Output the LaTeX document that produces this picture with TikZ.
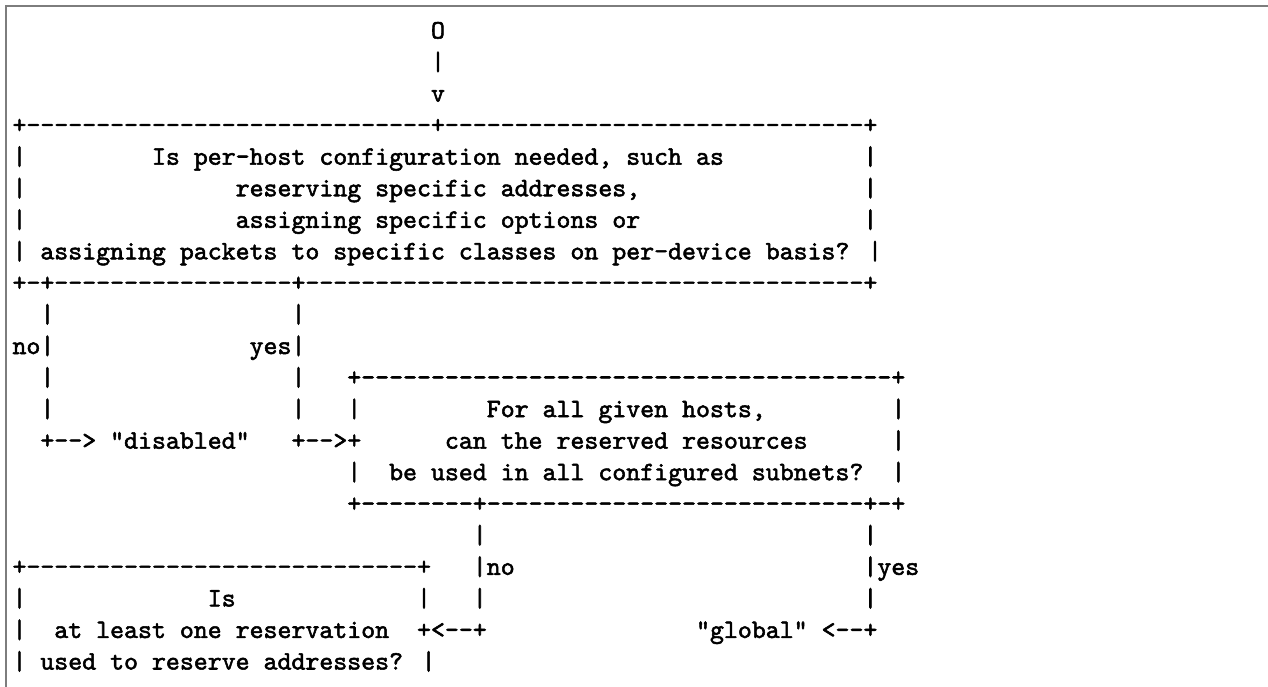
\documentclass[tikz,border=0pt]{standalone}
\usepackage{fontspec}
\newfontfamily\asciimono{lmmono10-regular}[Extension=.otf,FakeBold=2]
\definecolor{framegray}{RGB}{125,125,125}
\tikzset{
  ch/.style={anchor=base west, inner sep=0pt, outer sep=0pt,
    font=\asciimono\fontsize{26.57}{31.55}\selectfont, text=black},
  cell/.style 2 args={at={({12.5+13.95*#1},{-38.5-31.55*#2})}},
  frameline/.style={draw=framegray, line width=2pt}
}
\begin{document}
\begin{tikzpicture}[x=1pt,y=1pt]
\useasboundingbox (0,0) rectangle (1268,-687);
\coordinate (fbl) at (6,-690);
\coordinate (ftl) at (6,-6);
\coordinate (ftr) at (1270,-6);
\draw[frameline] (fbl) -- (ftl) -- (ftr);
% start
\node[ch,cell={30}{0}] (s0) {O};
\node[ch,cell={30}{1}] (s1) {|};
\node[ch,cell={30}{2}] (s2) {v};
% first box
\node[ch,cell={0}{3}] (b1top) {+-----------------------------+------------------------------+};
\node[ch,cell={0}{4}] (b1l4) {|};
\node[ch,cell={10}{4}] (b1t4) {Is per-host configuration needed, such as};
\node[ch,cell={61}{4}] (b1r4) {|};
\node[ch,cell={0}{5}] (b1l5) {|};
\node[ch,cell={16}{5}] (b1t5) {reserving specific addresses,};
\node[ch,cell={61}{5}] (b1r5) {|};
\node[ch,cell={0}{6}] (b1l6) {|};
\node[ch,cell={16}{6}] (b1t6) {assigning specific options or};
\node[ch,cell={61}{6}] (b1r6) {|};
\node[ch,cell={0}{7}] (b1t7) {| assigning packets to specific classes on per-device basis? |};
\node[ch,cell={0}{8}] (b1bot) {+-+-----------------+----------------------------------------+};
% branches
\node[ch,cell={2}{9}] (no9) {|};
\node[ch,cell={20}{9}] (yes9) {|};
\node[ch,cell={0}{10}] (no10) {no|};
\node[ch,cell={17}{10}] (yes10) {yes|};
\node[ch,cell={2}{11}] (no11) {|};
\node[ch,cell={20}{11}] (yes11) {|};
\node[ch,cell={24}{11}] (b2top) {+--------------------------------------+};
\node[ch,cell={2}{12}] (no12) {|};
\node[ch,cell={20}{12}] (yes12) {|};
\node[ch,cell={24}{12}] (b2l12) {|};
\node[ch,cell={34}{12}] (b2t12) {For all given hosts,};
\node[ch,cell={63}{12}] (b2r12) {|};
\node[ch,cell={2}{13}] (no13) {+-->};
\node[ch,cell={7}{13}] (disabled) {"disabled"};
\node[ch,cell={20}{13}] (yes13) {+-->+};
\node[ch,cell={31}{13}] (b2t13) {can the reserved resources};
\node[ch,cell={63}{13}] (b2r13) {|};
\node[ch,cell={24}{14}] (b2l14) {|};
\node[ch,cell={27}{14}] (b2t14) {be used in all configured subnets?};
\node[ch,cell={63}{14}] (b2r14) {|};
\node[ch,cell={24}{15}] (b2bot) {+--------+---------------------------+-+};
% second branches
\node[ch,cell={33}{16}] (no16) {|};
\node[ch,cell={61}{16}] (yes16) {|};
\node[ch,cell={0}{17}] (b3top) {+----------------------------+};
\node[ch,cell={33}{17}] (no17) {|no};
\node[ch,cell={61}{17}] (yes17) {|yes};
\node[ch,cell={0}{18}] (b3l18) {|};
\node[ch,cell={14}{18}] (b3t18) {Is};
\node[ch,cell={29}{18}] (b3r18) {|};
\node[ch,cell={33}{18}] (no18) {|};
\node[ch,cell={61}{18}] (yes18) {|};
\node[ch,cell={0}{19}] (b3l19) {|};
\node[ch,cell={3}{19}] (b3t19) {at least one reservation};
\node[ch,cell={29}{19}] (no19) {+<--+};
\node[ch,cell={49}{19}] (global) {"global" <--+};
\node[ch,cell={0}{20}] (b3t20) {| used to reserve addresses? |};
\end{tikzpicture}
\end{document}
